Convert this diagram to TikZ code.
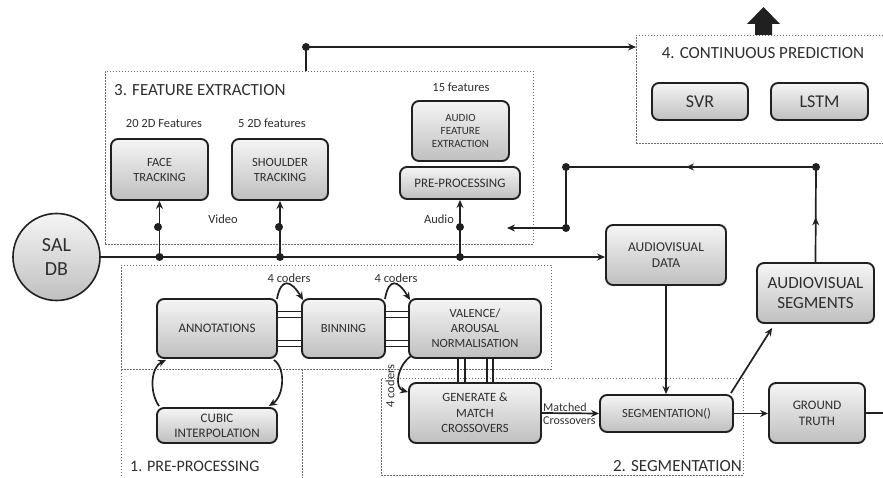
\documentclass[tikz,border=0pt]{standalone}
\usepackage{fontspec}
\setmainfont{Carlito}
\usetikzlibrary{arrows.meta,decorations.markings}
\definecolor{edge}{HTML}{202020}
\definecolor{dashc}{HTML}{6A6A6A}
\definecolor{txt}{HTML}{2E2E2E}
\begin{document}
\begin{tikzpicture}[x=1pt,y=-1pt,
  blk/.style={draw=edge, line width=1.9pt, rounded corners=7pt, top color=black!4, bottom color=black!25, text=txt, align=center, inner sep=0pt, font=\fontsize{12.5}{15}\selectfont},
  conn/.style={draw=edge, line width=1.7pt},
  arr/.style={conn, -{Stealth[length=8pt,width=7pt]}},
  jdot/.style={circle, fill=edge, inner sep=0pt, minimum size=8pt},
  dbox/.style={draw=dashc, dash pattern=on 1.6pt off 1.4pt, line width=0.6pt, inner sep=0pt, anchor=north west},
  ttl/.style={text=txt, inner sep=0pt, font=\fontsize{17}{19}\selectfont},
  lbl/.style={text=txt, inner sep=0pt, font=\fontsize{12.5}{14}\selectfont},
  midarr/.style={postaction={decorate}, decoration={markings, mark=at position #1 with {\arrow{Stealth[length=8pt,width=7pt]}}}}
]
\useasboundingbox (0,0) rectangle (883,478);

% dashed group boxes
\node[dbox, minimum width=428pt, minimum height=173pt] (fe) at (105,71) {};
\node[dbox, minimum width=260pt, minimum height=108pt] (cp) at (636,35) {};
\node[dbox, minimum width=430pt, minimum height=104pt] (pp) at (121,265) {};
\draw[dashc, dash pattern=on 1.6pt off 1.4pt, line width=0.6pt] (pp.south west) -- (121,485) (302,369) -- (302,485);
\node[dbox, minimum width=362pt, minimum height=97pt] (sg) at (381,378) {};

% titles
\node[ttl, anchor=west] (t3) at (114,90) {3. FEATURE EXTRACTION};
\node[ttl] (t4) at (763,53) {4. CONTINUOUS PREDICTION};
\node[ttl, anchor=west, font=\fontsize{16}{19}\selectfont] (t1) at (130,466) {1. PRE-PROCESSING};
\node[ttl, anchor=east] (t2) at (742,466) {2. SEGMENTATION};

% blocks
\node[draw=edge, line width=1.6pt, circle, minimum size=87pt, top color=black!4, bottom color=black!25, text=txt, align=center, inner sep=0pt, font=\fontsize{20}{24}\selectfont] (sal) at (56.5,257) {SAL\\DB};
\node[blk, minimum width=97pt, minimum height=61pt] (face) at (159.5,169.5) {FACE\\TRACKING};
\node[blk, minimum width=96pt, minimum height=61pt] (shoulder) at (280,169.5) {SHOULDER\\TRACKING};
\node[blk, minimum width=97pt, minimum height=60pt, font=\fontsize{11}{13}\selectfont] (afe) at (460.5,131) {AUDIO\\FEATURE\\EXTRACTION};
\node[blk, minimum width=120pt, minimum height=32pt, font=\fontsize{13}{15}\selectfont] (pre) at (460,183) {PRE-PROCESSING};
\node[blk, minimum width=120pt, minimum height=59pt, font=\fontsize{13}{15}\selectfont] (annot) at (217,328.5) {ANNOTATIONS};
\node[blk, minimum width=120pt, minimum height=35pt, font=\fontsize{13}{15}\selectfont] (cubic) at (217,425.5) {CUBIC\\INTERPOLATION};
\node[blk, minimum width=83pt, minimum height=59pt] (bin) at (343.5,328.5) {BINNING};
\node[blk, minimum width=132pt, minimum height=59pt] (val) at (475,328.5) {VALENCE/\\AROUSAL\\NORMALISATION};
\node[blk, minimum width=132pt, minimum height=60pt, font=\fontsize{12.6}{15.3}\selectfont] (gen) at (475,413) {GENERATE \&\\MATCH\\CROSSOVERS};
\node[blk, minimum width=133pt, minimum height=37pt] (seg) at (666.5,413.5) {SEGMENTATION()};
\node[blk, minimum width=120pt, minimum height=60pt, font=\fontsize{13.5}{16}\selectfont] (avd) at (666,255) {AUDIOVISUAL\\DATA};
\node[blk, minimum width=117pt, minimum height=60pt, font=\fontsize{17}{20}\selectfont] (avs) at (815.5,293) {AUDIOVISUAL\\SEGMENTS};
\node[blk, minimum width=96pt, minimum height=60pt, font=\fontsize{13}{16}\selectfont] (gt) at (817,413) {GROUND\\TRUTH};
\node[blk, minimum width=96pt, minimum height=37pt, font=\fontsize{18}{20}\selectfont] (svr) at (700,101.5) {SVR};
\node[blk, minimum width=97pt, minimum height=37pt, font=\fontsize{18}{20}\selectfont] (lstm) at (819.5,101.5) {LSTM};

% labels
\node[lbl] (l20) at (164,123) {20 2D Features};
\node[lbl] (l5) at (272,123) {5 2D features};
\node[lbl] (l15) at (461,87) {15 features};
\node[lbl] (lvid) at (223,219) {Video};
\node[lbl] (laud) at (439,219) {Audio};
\node[lbl] (lc1) at (289,278) {4 coders};
\node[lbl] (lc2) at (396,278) {4 coders};
\node[lbl, rotate=90] (lc3) at (390,386) {4 coders};
\node[lbl, anchor=west, font=\fontsize{12}{13}\selectfont] (lm1) at (543,407) {Matched};
\node[lbl, anchor=west, font=\fontsize{12}{13}\selectfont] (lm2) at (543,421) {Crossovers};

% main line and junctions
\draw[arr] (sal.east) -- (sal.east -| avd.west);
\node[jdot] (j1) at (sal.east -| face.south) {};
\node[jdot] (j2) at (sal.east -| shoulder.south) {};
\node[jdot] (j3) at (sal.east -| pre.south) {};
\node[jdot] (k1) at (158,227) {};
\node[jdot] (k2) at (279,227) {};
\node[jdot] (k3) at (460,227) {};
\draw[arr] (j1.center) -- (face.south);
\draw[arr] (j2.center) -- (shoulder.south);
\draw[arr] (j3.center) -- (pre.south);

% top link to prediction
\node[jdot] (tp) at (306,47) {};
\draw[conn] (tp.center) -- (tp.center |- fe.north);
\draw[arr] (tp.center) -- (tp.center -| cp.west);
\fill[edge] (755,35) -- (755,24) -- (747,24) -- (763.5,7) -- (780,24) -- (772,24) -- (772,35) -- cycle;

% feedback loop
\node[jdot] (r1) at (816,167) {};
\node[jdot] (r2) at (566,167) {};
\node[jdot] (r3) at (566,228) {};
\coordinate (rend) at (507,228);
\draw[conn, midarr=0.47] (avs.north) -- (r1.center);
\draw[conn, midarr=0.52] (r1.center) -- (r2.center);
\draw[conn] (r2.center) -- (r3.center);
\draw[arr] (r3.center) -- (rend);

% pre-processing links
\foreach \d in {-17,-11,12,18}{
  \draw[edge, line width=1.5pt] ([shift={(0,\d)}]annot.east) -- ([shift={(0,\d)}]bin.west);
  \draw[edge, line width=1.5pt] ([shift={(0,\d)}]bin.east) -- ([shift={(0,\d)}]val.west);
}
\foreach \d in {-17,-10,12,18}{
  \draw[edge, line width=1.5pt] ([shift={(\d,0)}]val.south) -- ([shift={(\d,0)}]gen.north);
}
\draw[arr] ([shift={(-1,1)}]annot.north east) .. controls +(4,-22) and +(-12,-20) .. ([shift={(2,2)}]bin.north west);
\draw[arr] ([shift={(-1,1)}]bin.north east) .. controls +(4,-22) and +(-12,-20) .. ([shift={(2,2)}]val.north west);
\draw[arr] ([shift={(3,-3)}]val.south west) .. controls (397,366) and (394,388) .. ([shift={(0,10)}]gen.north west);
\draw[arr] ([shift={(3,-1)}]cubic.north west) .. controls (149,392) and (151,367) .. ([shift={(10,1)}]annot.south west);
\draw[arr] ([shift={(-4,1)}]annot.south east) .. controls (286,368) and (284,396) .. ([shift={(-9,-1)}]cubic.north east);

% segmentation links
\draw[arr] (gen.east) -- (seg.west);
\draw[arr] (avd.south) -- (seg.north -| avd.south);
\draw[arr] ([shift={(-3,-1)}]seg.north east) -- ([shift={(16,4)}]avs.south west);
\draw[arr] (seg.east) -- (seg.east -| gt.west);
\coordinate (gtout) at (890,413);
\draw[conn] (gt.east) -- (gtout);
\end{tikzpicture}
\end{document}
